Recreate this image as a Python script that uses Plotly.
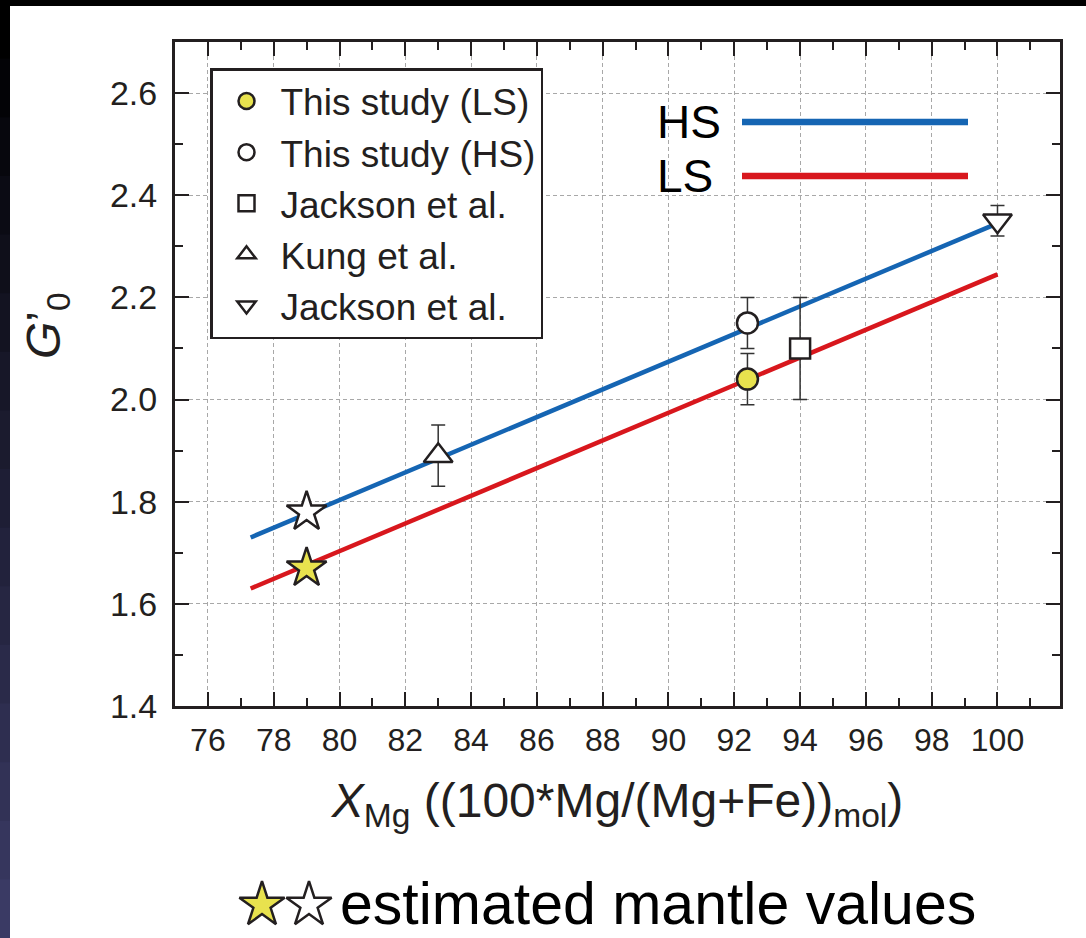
import plotly.graph_objects as go

# ---------------- data ----------------
fit_x = [77.3, 100.0]
hs_fit_y = [1.73, 2.345]
ls_fit_y = [1.63, 2.245]

ls_x = [92.4]; ls_y = [2.04]; ls_err = [0.05]
hs_x = [92.4]; hs_y = [2.15]; hs_err = [0.05]
jack_sq_x = [94.0]; jack_sq_y = [2.10]; jack_sq_err = [0.10]
kung_x = [83.0]; kung_y = [1.89]; kung_err = [0.06]
jack_tri_x = [100.0]; jack_tri_y = [2.35]; jack_tri_err = [0.03]

mantle_x = [79.0]
mantle_hs_y = [1.78]
mantle_ls_y = [1.67]

x_ticks = [76, 78, 80, 82, 84, 86, 88, 90, 92, 94, 96, 98, 100]
y_ticks = [1.4, 1.6, 1.8, 2.0, 2.2, 2.4, 2.6]
x_range = [75, 101.9]
y_range = [1.4, 2.7]

# ---------------- style ----------------
FONT = "Liberation Sans, Arial, Helvetica, sans-serif"
INK = "#231f20"
BLUE = "#1565b3"
RED = "#d8171d"
YELLOW = "#e8e24e"
W, H = 1086, 938
PL, PR, PT, PB = 175, 1060, 42, 706   # plot frame in pixels


def fx(p):
    return p / W


def fy(p):
    return (H - p) / H


fig = go.Figure()

fig.add_trace(go.Scatter(x=fit_x, y=hs_fit_y, mode="lines", line=dict(color=BLUE, width=4.5),
                         showlegend=False, hoverinfo="skip"))
fig.add_trace(go.Scatter(x=fit_x, y=ls_fit_y, mode="lines", line=dict(color=RED, width=4.5),
                         showlegend=False, hoverinfo="skip"))

err_style = dict(type="data", color="#333333", thickness=1.5, width=7)
mline = dict(color=INK, width=2.5)

fig.add_trace(go.Scatter(x=ls_x, y=ls_y, mode="markers", name="This study (LS)", legendgroup="a",
                         error_y=dict(array=ls_err, **err_style),
                         marker=dict(symbol="circle", size=21, color=YELLOW, line=mline)))
fig.add_trace(go.Scatter(x=hs_x, y=hs_y, mode="markers", name="This study (HS)", legendgroup="b",
                         error_y=dict(array=hs_err, **err_style),
                         marker=dict(symbol="circle", size=21, color="white", line=mline)))
fig.add_trace(go.Scatter(x=jack_sq_x, y=jack_sq_y, mode="markers", name="Jackson et al.", legendgroup="c",
                         error_y=dict(array=jack_sq_err, **err_style),
                         marker=dict(symbol="square", size=20, color="white", line=mline)))
fig.add_trace(go.Scatter(x=kung_x, y=kung_y, mode="markers", name="Kung et al.", legendgroup="d",
                         error_y=dict(array=kung_err, **err_style),
                         marker=dict(symbol="triangle-up", size=25, color="white", line=mline)))
fig.add_trace(go.Scatter(x=jack_tri_x, y=jack_tri_y, mode="markers", name="Jackson et al. ", legendgroup="e",
                         error_y=dict(array=jack_tri_err, **err_style),
                         marker=dict(symbol="triangle-down", size=25, color="white", line=mline)))

fig.add_trace(go.Scatter(x=mantle_x, y=mantle_hs_y, mode="markers", showlegend=False,
                         marker=dict(symbol="star", size=30, color="white", line=mline)))
fig.add_trace(go.Scatter(x=mantle_x, y=mantle_ls_y, mode="markers", showlegend=False,
                         marker=dict(symbol="star", size=30, color=YELLOW, line=mline)))

# stars of the footnote key, on a hidden subplot laid over the footnote strip (pixel units)
key_star_x = [262, 309]
key_star_y = [905, 905]
fig.add_trace(go.Scatter(x=key_star_x, y=key_star_y, xaxis="x2", yaxis="y2",
                         mode="markers", showlegend=False, hoverinfo="skip", cliponaxis=False,
                         marker=dict(symbol="star", size=34, color=[YELLOW, "white"],
                                     line=dict(color=INK, width=2.5))))

axis_common = dict(
    showline=True, linecolor=INK, linewidth=3, mirror="allticks",
    ticks="inside", ticklen=14, tickwidth=2, tickcolor=INK,
    showgrid=True, gridcolor="#a8a8a8", gridwidth=1.3, griddash="4px,3px",
    zeroline=False, automargin=False,
)

FOOT_TOP = 850
fig.update_layout(
    width=W, height=H, autosize=False,
    margin=dict(l=0, r=0, t=0, b=0, pad=0, autoexpand=False),
    paper_bgcolor="white", plot_bgcolor="rgba(0,0,0,0)",
    font=dict(family=FONT, color=INK),
    xaxis=dict(domain=[fx(PL), fx(PR)], range=x_range, tickvals=x_ticks, ticklabelstandoff=4,
               tickfont=dict(family=FONT, size=32, color=INK),
               minor=dict(dtick=1, ticks="inside", ticklen=8, tickwidth=2, tickcolor=INK, showgrid=False),
               title=dict(text="<i>X</i><sub>Mg</sub> ((100*Mg/(Mg+Fe))<sub>mol</sub>)",
                          font=dict(family=FONT, size=48, color=INK), standoff=26),
               **axis_common),
    yaxis=dict(domain=[fy(PB), fy(PT)], range=y_range, tickvals=y_ticks, tickformat=".1f", ticklabelstandoff=8,
               tickfont=dict(family=FONT, size=34, color=INK),
               minor=dict(dtick=0.1, tick0=1.4, ticks="inside", ticklen=8, tickwidth=2, tickcolor=INK, showgrid=False),
               **axis_common),
    xaxis2=dict(domain=[0, 1], range=[0, W], anchor="y2", visible=False, fixedrange=True, automargin=False),
    yaxis2=dict(domain=[0, fy(FOOT_TOP)], range=[H, FOOT_TOP], anchor="x2", visible=False, fixedrange=True,
                automargin=False),
    legend=dict(x=fx(210), y=fy(68), xanchor="left", yanchor="top",
                bgcolor="white", bordercolor=INK, borderwidth=2.5,
                font=dict(family=FONT, size=37, color=INK),
                traceorder="grouped", tracegroupgap=0, itemwidth=58),
    showlegend=True,
)

# HS / LS line key
for label, color, ycen in [("HS", BLUE, 122), ("LS", RED, 176)]:
    fig.add_annotation(x=fx(655), y=fy(ycen), xref="paper", yref="paper", text=label,
                       showarrow=False, xanchor="left", yanchor="middle",
                       font=dict(family=FONT, size=46, color="black"))
    fig.add_shape(type="line", xref="paper", yref="paper", x0=fx(742), x1=fx(968),
                  y0=fy(ycen), y1=fy(ycen), line=dict(color=color, width=6.5))

# y-axis title
fig.add_annotation(x=fx(47), y=fy(326), xref="paper", yref="paper",
                   text="<i>G</i>’<sub>0</sub>", textangle=-90, showarrow=False,
                   xanchor="center", yanchor="middle",
                   font=dict(family=FONT, size=48, color=INK))

# footnote text
fig.add_annotation(x=fx(338), y=fy(904), xref="paper", yref="paper",
                   text="estimated mantle values", showarrow=False,
                   xanchor="left", yanchor="middle",
                   font=dict(family=FONT, size=59, color="black"))

# dark frame of the original picture: top strip and left gradient strip
fig.add_shape(type="rect", xref="paper", yref="paper", x0=0, x1=1, y0=fy(6), y1=1,
              fillcolor="black", line=dict(width=0), layer="above")
n = 16
for i in range(n):
    t = i / (n - 1)
    r = int(t * 0x3a); g = int(t * 0x3a); b = int(t * 0x64)
    y_top = i * H / n
    y_bot = min(H, (i + 1) * H / n + 2)
    fig.add_shape(type="rect", xref="paper", yref="paper", x0=0, x1=fx(10),
                  y0=fy(y_bot), y1=fy(y_top), fillcolor=f"rgb({r},{g},{b})",
                  line=dict(width=0), layer="above")

fig.write_html("out.html")
